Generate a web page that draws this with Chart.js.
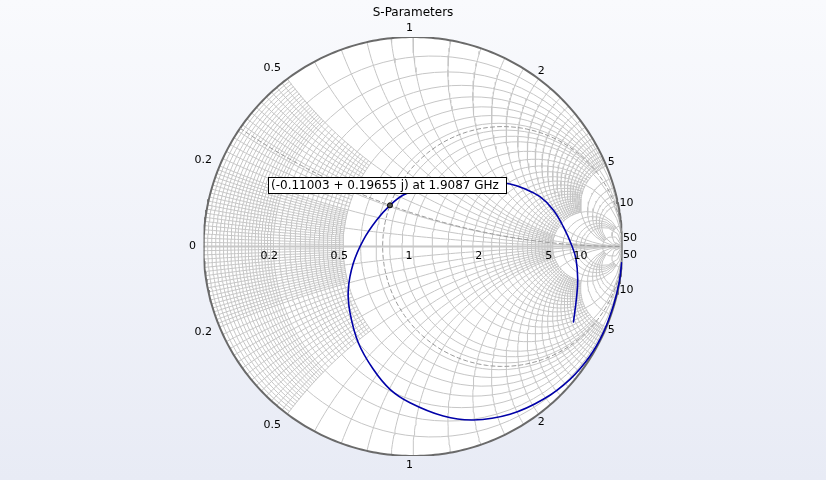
<!DOCTYPE html>
<html><head><meta charset="utf-8">
<script src="https://cdn.jsdelivr.net/npm/chart.js@4.4.1/dist/chart.umd.min.js"></script>
<style>
html,body{margin:0;padding:0;}
body{width:826px;height:480px;overflow:hidden;background:linear-gradient(#f9fafd,#e8ebf5);}
#wrap{position:relative;width:826px;height:480px;}
</style></head><body><div id="wrap"><canvas id="c" width="826" height="480"></canvas></div>
<script>
const s11Re = [0.7661,0.7814,0.7862,0.7780,0.7589,0.7174,0.6697,0.6062,0.5265,0.4630,0.3675,0.2482,0.1289,0.0334,-0.0463,-0.11003,-0.1733,-0.2372,-0.2850,-0.3088,-0.3007,-0.2611,-0.1895,-0.1098,-0.0143,0.1446,0.2878,0.4630,0.6220,0.7494,0.8449,0.9084,0.9561,0.9840,0.9960];
const s11Im = [-0.3604,-0.2363,-0.1551,-0.0597,0.0024,0.0945,0.1742,0.2377,0.2778,0.2983,0.3126,0.3174,0.3031,0.2745,0.2458,0.19655,0.1265,0.0310,-0.0802,-0.2043,-0.3160,-0.4592,-0.5862,-0.6816,-0.7456,-0.8091,-0.8282,-0.8010,-0.7294,-0.6339,-0.5227,-0.4115,-0.2840,-0.1728,-0.0773];

// data cursor
const cursorRe = -0.11003;
const cursorIm = 0.19655;
const cursorFreq = '1.9087 GHz';

// Smith grid: circle values in [from, to] with a step, drawn up to a limit of the other coordinate
const gridFrom  = [0,    0.2,  0,   1,   2,   5,  10];
const gridTo    = [0.2,  0.5,  1,   2,   5,   10, 20];
const gridStep  = [0.01, 0.02, 0.1, 0.2, 0.2, 1,  10];
const gridLimit = [0.5,  0.5,  5,   5,   5,   20, Infinity];
const majorValues = [0, 0.2, 0.5, 1, 2, 5, 10, 20, 50];

// tick labels
const reactanceLabels = [0, 0.2, 0.5, 1, 2, 5, 10, 50];
const resistanceLabels = [0.2, 0.5, 1, 2, 5, 10];

function gam(r, x) {
  const D = (r + 1) * (r + 1) + x * x;
  return { x: (r * r + x * x - 1) / D, y: 2 * x / D };
}
const GAP = { x: NaN, y: NaN };
function rCircle(r, lim, n) {
  const a = Math.atan(lim), pts = [];
  for (let i = 0; i <= n; i++) {
    const p = -a + 2 * a * i / n;
    pts.push(Math.abs(p) >= Math.PI / 2 - 1e-9 ? { x: 1, y: 0 } : gam(r, Math.tan(p)));
  }
  return pts;
}
function xArc(x, lim, n) {
  const a = Math.atan(lim), pts = [];
  for (let i = 0; i <= n; i++) {
    const p = a * i / n;
    pts.push(p >= Math.PI / 2 - 1e-9 ? { x: 1, y: 0 } : gam(Math.tan(p), x));
  }
  return pts;
}

// collect grid values with their maximum limit
const lim = new Map();
for (let i = 0; i < gridFrom.length; i++) {
  const k = Math.round((gridTo[i] - gridFrom[i]) / gridStep[i]);
  for (let j = 1; j <= k; j++) {
    const v = Math.round((gridFrom[i] + j * gridStep[i]) * 1000) / 1000;
    lim.set(v, Math.max(lim.get(v) || 0, gridLimit[i]));
  }
}
majorValues.forEach(v => lim.set(v, Infinity));

const gridPts = [];
lim.forEach((L, v) => {
  if (v > 0) {
    gridPts.push(...rCircle(v, L, 90), GAP);
    gridPts.push(...xArc(v, L, 60), GAP);
    gridPts.push(...xArc(-v, L, 60), GAP);
  }
});
const axisPts = [{ x: -1, y: 0 }, { x: 1, y: 0 }];
const unitPts = [];
for (let i = 0; i <= 360; i++) unitPts.push({ x: Math.cos(i * Math.PI / 180), y: Math.sin(i * Math.PI / 180) });

// cursor impedance
const cz = (function () {
  const nr = 1 + cursorRe, ni = cursorIm, dr = 1 - cursorRe, di = -cursorIm;
  const D = dr * dr + di * di;
  return { r: (nr * dr + ni * di) / D, x: (ni * dr - nr * di) / D };
})();
const cursorCircle = rCircle(cz.r, Infinity, 180);
const cursorArc = xArc(cz.x, Infinity, 120);

const curve = s11Re.map((v, i) => ({ x: v, y: s11Im[i] }));

const FONT = 'DejaVu Sans';
const labelPlugin = {
  id: 'smithLabels',
  afterDatasetsDraw(chart) {
    const ctx = chart.ctx, xs = chart.scales.x, ys = chart.scales.y;
    const cx = xs.getPixelForValue(0), cy = ys.getPixelForValue(0);
    const R = xs.getPixelForValue(1) - cx;
    ctx.save();
    ctx.fillStyle = '#000';
    ctx.font = '11px "' + FONT + '"';
    ctx.textAlign = 'center';
    ctx.textBaseline = 'middle';
    // reactance labels on outer circle
    reactanceLabels.forEach(v => {
      const signs = v === 0 ? [1] : [1, -1];
      signs.forEach(s => {
        const g = gam(0, s * v);
        const px = xs.getPixelForValue(g.x), py = ys.getPixelForValue(g.y);
        const ux = (px - cx) / R, uy = (py - cy) / R;
        const w = ctx.measureText(String(v)).width, h = 10;
        const d = 4 + Math.abs(ux) * w / 2 + Math.abs(uy) * h / 2;
        const shift = ux < -0.3 && Math.abs(uy) > 0.5 ? -7 : -3.5;
        ctx.fillText(String(v), px + ux * d + shift, py + uy * d);
      });
    });
    // resistance labels on real axis
    resistanceLabels.forEach(v => {
      const g = gam(v, 0);
      const px = xs.getPixelForValue(g.x);
      ctx.fillText(String(v), px - 4, cy + 10);
    });
    // data cursor box
    const mx = xs.getPixelForValue(cursorRe), my = ys.getPixelForValue(cursorIm);
    const txt = '(' + cursorRe.toFixed(5) + ' + ' + cursorIm.toFixed(5) + ' j) at ' + cursorFreq;
    ctx.font = '12px "' + FONT + '"';
    const tw = ctx.measureText(txt).width;
    const bx = Math.round(mx - 122) + 0.5, by = Math.round(my - 28) + 0.5, bw = Math.round(tw + 10), bh = 16;
    ctx.fillStyle = '#fff';
    ctx.fillRect(bx, by, bw, bh);
    ctx.strokeStyle = '#000';
    ctx.lineWidth = 1;
    ctx.strokeRect(bx, by, bw, bh);
    ctx.fillStyle = '#000';
    ctx.textAlign = 'left';
    ctx.fillText(txt, bx + 2.5, by + bh / 2 + 0.5);
    ctx.restore();
  }
};

new Chart(document.getElementById('c'), {
  type: 'scatter',
  data: {
    datasets: [
      { label: 'disk', data: unitPts, showLine: true, fill: 'shape', backgroundColor: '#ffffff', borderWidth: 0, pointRadius: 0, order: 10 },
      { label: 'grid', data: gridPts, showLine: true, borderColor: '#c6c6c6', borderWidth: 1, pointRadius: 0, spanGaps: false, order: 9 },
      { label: 'axis', data: axisPts, showLine: true, borderColor: '#c8c8c8', borderWidth: 2, pointRadius: 0, order: 8 },
      { label: 'outer', data: unitPts, showLine: true, borderColor: '#6a6a6a', borderWidth: 2, pointRadius: 0, order: 7 },
      { label: 'cursorR', data: cursorCircle, showLine: true, borderColor: '#9a9a9a', borderWidth: 1, borderDash: [4, 3], pointRadius: 0, order: 6 },
      { label: 'cursorX', data: cursorArc, showLine: true, borderColor: '#9a9a9a', borderWidth: 1, borderDash: [4, 3], pointRadius: 0, order: 5 },
      { label: 'S11', data: curve, showLine: true, borderColor: '#0000a8', borderWidth: 1.6, pointRadius: 0, tension: 0.4, order: 2 },
      { label: 'cursor', data: [{ x: cursorRe, y: cursorIm }], showLine: false, pointRadius: 2.5, backgroundColor: '#555', borderColor: '#000', borderWidth: 1, order: 1 }
    ]
  },
  options: {
    responsive: false,
    animation: false,
    devicePixelRatio: 1,
    layout: { padding: { left: 203.5, right: 203.5, top: 0, bottom: 24 } },
    scales: {
      x: { type: 'linear', min: -1, max: 1, display: false },
      y: { type: 'linear', min: -1, max: 1, display: false }
    },
    plugins: {
      legend: { display: false },
      tooltip: { enabled: false },
      title: { display: true, text: 'S-Parameters', color: '#000', font: { family: FONT, size: 12, weight: 'normal' }, padding: { top: 6, bottom: 16.6 } }
    },
    elements: { line: { borderCapStyle: 'round' } }
  },
  plugins: [labelPlugin]
});
</script></body></html>
